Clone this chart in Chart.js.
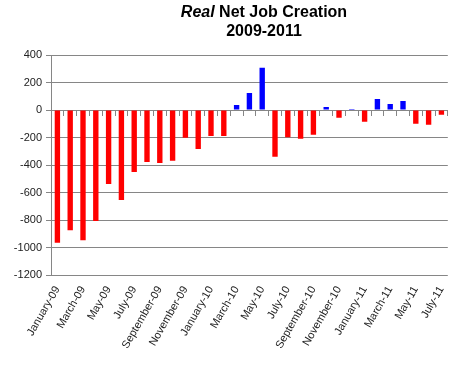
<!DOCTYPE html>
<html>
<head>
<meta charset="utf-8">
<script src="https://cdn.jsdelivr.net/npm/chart.js@4"></script>
<style>
  html, body { margin: 0; padding: 0; background: #fff; }
  #wrap { width: 462px; height: 367px; }
</style>
</head>
<body>
<div id="wrap"><canvas id="jobChart" width="462" height="367"></canvas></div>
<script>
// months Jan-09 .. Jul-11
const bulan = [
    "January-09","February-09","March-09","April-09","May-09","June-09",
    "July-09","August-09","September-09","October-09","November-09","December-09",
    "January-10","February-10","March-10","April-10","May-10","June-10",
    "July-10","August-10","September-10","October-10","November-10","December-10",
    "January-11","February-11","March-11","April-11","May-11","June-11","July-11"
];

// real net jobs (thousands)
const nilai = [
    -966, -874, -947, -808, -539, -655,
    -451, -379, -386, -369, -201, -284,
    -189, -189, 36, 124, 308, -340,
    -199, -209, -180, 22, -56, 7,
    -85, 80, 44, 66, -100, -107, -34
];

const judul1 = "Real";
const judul2 = " Net Job Creation";
const judul3 = "2009-2011";

const warnaBar = nilai.map(v => v < 0 ? "#FF0000" : "#0000FF");
const abuGaris = "#868686";
const fontTeks = "'Liberation Sans', Arial, sans-serif";

const pluginJudul = {
    id: "judul",
    afterDraw(chart) {
        const ctx = chart.ctx;
        ctx.save();
        ctx.fillStyle = "#000";
        ctx.textBaseline = "alphabetic";
        ctx.font = "italic bold 16px " + fontTeks;
        const w1 = ctx.measureText(judul1).width;
        ctx.font = "bold 16px " + fontTeks;
        const w2 = ctx.measureText(judul2).width;
        const cx = 264;
        let x = cx - (w1 + w2) / 2;
        ctx.textAlign = "left";
        ctx.font = "italic bold 16px " + fontTeks;
        ctx.fillText(judul1, x, 17);
        ctx.font = "bold 16px " + fontTeks;
        ctx.fillText(judul2, x + w1, 17);
        ctx.textAlign = "center";
        ctx.fillText(judul3, cx, 36);
        ctx.restore();
    }
};

new Chart(document.getElementById("jobChart"), {
    type: "bar",
    data: {
        labels: bulan,
        datasets: [{
            data: nilai,
            backgroundColor: warnaBar,
            borderWidth: 0,
            barPercentage: 0.42,
            categoryPercentage: 1
        }]
    },
    options: {
        responsive: false,
        animation: false,
        devicePixelRatio: 1,
        layout: { padding: { top: 55, right: 10, left: 0, bottom: 0 } },
        plugins: {
            legend: { display: false },
            tooltip: { enabled: false }
        },
        scales: {
            x: {
                position: "bottom",
                grid: { drawOnChartArea: false, drawTicks: false },
                border: { display: false },
                ticks: {
                    autoSkip: false,
                    minRotation: 60,
                    maxRotation: 60,
                    padding: 9,
                    color: "#222",
                    font: { family: fontTeks, size: 11 },
                    callback: function(val, i) {
                        return i % 2 === 0 ? bulan[i] : "";
                    }
                },
                afterFit(scale) { scale.height = 92; }
            },
            x2: {
                type: "category",
                axis: "x",
                position: { y: 0 },
                offset: true,
                grid: {
                    offset: true,
                    drawOnChartArea: false,
                    tickLength: 5,
                    color: abuGaris
                },
                border: { display: true, color: abuGaris, width: 1 },
                ticks: { display: false }
            },
            y: {
                min: -1200,
                max: 400,
                ticks: {
                    stepSize: 200,
                    color: "#222",
                    padding: 4,
                    font: { family: fontTeks, size: 11 },
                    callback: v => String(v)
                },
                grid: { color: abuGaris, tickLength: 5 },
                border: { display: true, color: abuGaris },
                afterFit(scale) { scale.width = 51; }
            }
        }
    },
    plugins: [pluginJudul]
});
</script>
</body>
</html>
